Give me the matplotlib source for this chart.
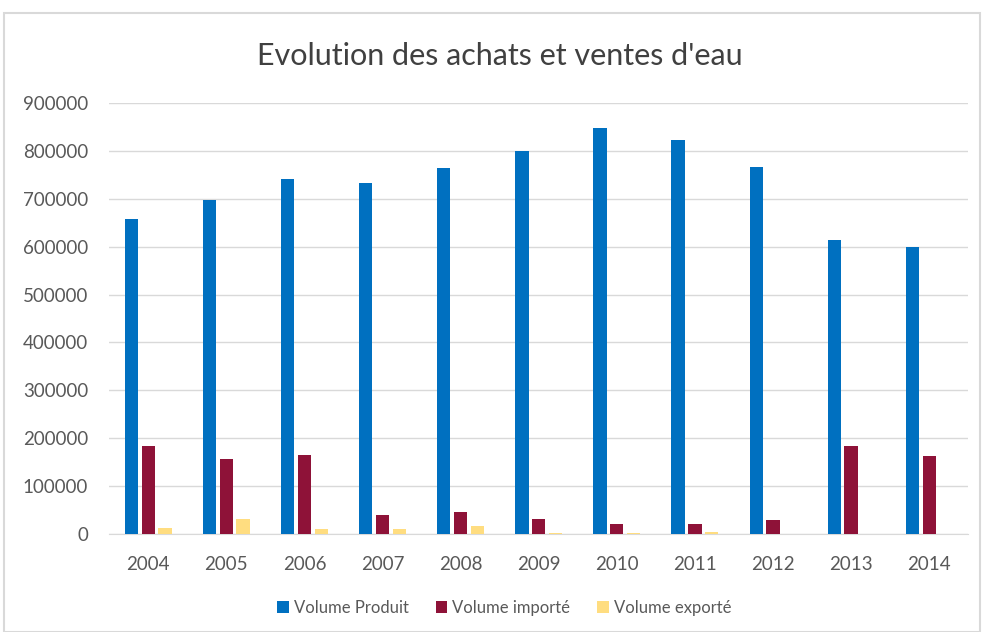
import numpy as np
import matplotlib
matplotlib.use('Agg')
import matplotlib.pyplot as plt
from matplotlib.patches import Rectangle

plt.rcParams['font.family'] = ['Lato', 'DejaVu Sans']

years = ['2004', '2005', '2006', '2007', '2008', '2009', '2010', '2011', '2012', '2013', '2014']
vol_produit = [657000, 698000, 741000, 733000, 764000, 800000, 848000, 823000, 766000, 614000, 600000]
vol_importe = [184000, 157000, 165000, 40000, 46000, 31000, 21000, 21000, 29000, 184000, 163000]
vol_exporte = [12500, 31000, 10500, 10500, 16500, 2000, 2000, 4000, 0, 0, 0]

c_blue = '#0070c0'
c_red = '#8e1238'
c_yellow = '#ffdd80'
grey_txt = '#595959'

fig = plt.figure(figsize=(9.83, 6.32), dpi=100)
# chart border
fig.patches.append(Rectangle((4 / 983, 0), 976 / 983, 1 - 13 / 632, transform=fig.transFigure,
                             fill=False, edgecolor='#d9d9d9', linewidth=1.5))

ax = fig.add_axes([0.111, 0.155, 0.874, 0.682])

x = np.arange(len(years))
w = 0.17
off = 0.215
ax.bar(x - off, vol_produit, w, color=c_blue, label='Volume Produit', zorder=3)
ax.bar(x, vol_importe, w, color=c_red, label='Volume importé', zorder=3)
ax.bar(x + off, vol_exporte, w, color=c_yellow, label='Volume exporté', zorder=3)

ax.set_xlim(-0.5, len(years) - 0.5)
ax.set_ylim(0, 900000)
ax.set_yticks(np.arange(0, 900001, 100000))
ax.set_yticklabels([str(v) for v in range(0, 900001, 100000)])
ax.set_xticks(x)
ax.set_xticklabels(years)
ax.grid(axis='y', color='#d9d9d9', linewidth=1, zorder=0)
for s in ['left', 'right', 'top']:
    ax.spines[s].set_visible(False)
ax.spines['bottom'].set_color('#d9d9d9')
ax.tick_params(length=0, labelsize=13.5, colors=grey_txt)
ax.tick_params(axis='x', pad=16)
ax.tick_params(axis='y', pad=15)

fig.text(0.508, 0.912, "Evolution des achats et ventes d'eau", ha='center', va='center',
         fontsize=22, color='#404040')

ax.legend(loc='center', bbox_to_anchor=(0.513, 0.038), bbox_transform=fig.transFigure, ncol=3,
          frameon=False, fontsize=12, labelcolor=grey_txt, handlelength=0.7, handleheight=0.7,
          handletextpad=0.3, columnspacing=1.6)

plt.savefig('out.png', dpi=100)
